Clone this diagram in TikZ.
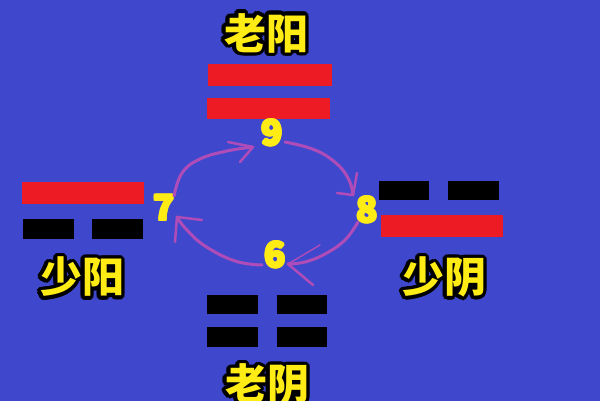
\documentclass[tikz,border=0pt]{standalone}
\usepackage{fontspec}
\newfontfamily\cjk{Noto Sans CJK SC Black}
\usetikzlibrary{calc}
\definecolor{bg}{RGB}{63,72,204}
\definecolor{barred}{RGB}{237,28,36}
\definecolor{txtyel}{RGB}{255,236,20}
\definecolor{arrpur}{RGB}{176,76,184}
\tikzset{
  lbl/.style={inner sep=0pt, font=\cjk\fontsize{42}{42}\selectfont, text=txtyel},
  num/.style={inner sep=0pt, font=\cjk\fontsize{35}{35}\selectfont, text=txtyel},
  yangbar/.style={fill=barred, draw=none},
  yinbar/.style={fill=black, draw=none},
  arr/.style={draw=arrpur, line width=3pt, line cap=round, line join=round},
  barb/.style={draw=arrpur, line width=2.5pt, line cap=round}
}
\newcommand\otext[3]{%
  \foreach \a in {0,22.5,...,337.5}{\node[lbl,text=black] at ($(#2)+(\a:3.4)$) {#3};}
  \node[lbl] (#1) at (#2) {#3};}
\newcommand\bnum[3]{%
  \foreach \a in {0,45,...,315}{\node[num] at ($(#2)+(\a:1.1)$) {#3};}
  \node[num] (#1) at (#2) {#3};}
\begin{document}
\begin{tikzpicture}[x=1pt,y=-1pt]
\fill[bg] (0,0) rectangle (600,401);
\useasboundingbox (0,0) rectangle (600,401);
% top: lao yang
\coordinate (pLY) at (266,33);
\otext{laoyang}{pLY}{老阳}
\fill[yangbar] (208,64) rectangle (332,86);
\fill[yangbar] (207,98) rectangle (330,119);
% left: shao yang
\coordinate (pSY) at (82,277);
\otext{shaoyang}{pSY}{少阳}
\fill[yangbar] (22,182) rectangle (144,204);
\fill[yinbar] (23,219) rectangle (74,239);
\fill[yinbar] (92,219) rectangle (143,239);
% right: shao yin
\coordinate (pSYn) at (444,277);
\otext{shaoyin}{pSYn}{少阴}
\fill[yinbar] (379,181) rectangle (429,200);
\fill[yinbar] (448,181) rectangle (499,200);
\fill[yangbar] (381,215) rectangle (503,237);
% bottom: lao yin
\coordinate (pLYn) at (267,384);
\otext{laoyin}{pLYn}{老阴}
\fill[yinbar] (207,295) rectangle (258,314);
\fill[yinbar] (277,295) rectangle (327,314);
\fill[yinbar] (207,327) rectangle (258,347);
\fill[yinbar] (277,327) rectangle (327,347);
% numbers
\coordinate (p9) at (272,133);
\coordinate (p7) at (164,208);
\coordinate (p8) at (367,210);
\coordinate (p6) at (275,255);
\bnum{n9}{p9}{9}
\bnum{n7}{p7}{7}
\bnum{n8}{p8}{8}
\bnum{n6}{p6}{6}
% arrows (hand drawn)
\coordinate (t1) at (253,147);
\coordinate (t2) at (353,195);
\coordinate (t3) at (288,264);
\coordinate (t4) at (177,217);
\draw[arr] plot[smooth,tension=0.7] coordinates {(174,196) (182,173) (200,159) (227,151) (t1)};
\draw[barb] (t1) -- (228,142);
\draw[barb] (t1) -- (240,162);
\draw[arr] plot[smooth,tension=0.7] coordinates {(285,142) (315,150) (337,164) (349,180) (t2)};
\draw[barb] (t2) -- (357,173);
\draw[barb] (t2) -- (337,193);
\draw[arr] plot[smooth,tension=0.7] coordinates {(358,222) (345,240) (325,254) (305,262) (t3)};
\draw[barb, line width=1.4pt] (t3) -- (320,245);
\draw[barb] (t3) -- (313,285);
\draw[arr] plot[smooth,tension=0.7] coordinates {(262,265) (235,261) (205,246) (186,229) (t4)};
\draw[barb] (t4) -- (175,242);
\draw[barb] (t4) -- (202,220);
\end{tikzpicture}
\end{document}
